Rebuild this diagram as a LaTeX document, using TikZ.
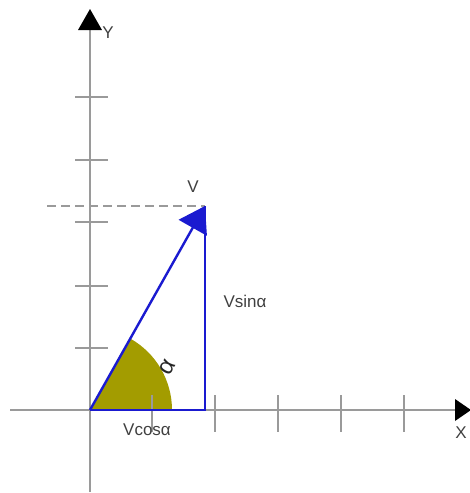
\documentclass[tikz,border=0pt]{standalone}
\usepackage{fontspec}
\setmainfont{Liberation Sans}
\usetikzlibrary{arrows.meta}
\definecolor{axisgray}{HTML}{9A9A9A}
\definecolor{vecblue}{HTML}{1A1AD0}
\definecolor{arcolive}{HTML}{A39C00}
\begin{document}
\begin{tikzpicture}[x=1pt,y=-1pt,
  axis/.style={axisgray,line width=1.4pt},
  tick/.style={axisgray,line width=1.4pt},
  vec/.style={vecblue,line width=2.4pt},
  lbl/.style={font=\fontsize{17}{19}\selectfont,text=black!75,inner sep=0pt},
  alphalbl/.style={font=\fontsize{24}{26}\selectfont,text=black!85,inner sep=0pt}]
\useasboundingbox (0,0) rectangle (470,493);
\coordinate (O) at (90,410);
\coordinate (ytop) at (90,28);
\coordinate (ybot) at (90,492);
\coordinate (xl) at (10,410);
\coordinate (xr) at (456,410);
\coordinate (P) at (205,206);
\coordinate (Q) at (205,410);
\coordinate (dl) at (47,206);
% sector
\fill[arcolive] (O) -- (172,410) arc[start angle=0,end angle=-60.6,radius=82] -- cycle;
% axes
\draw[axis] (ybot) -- (ytop);
\draw[axis] (xl) -- (xr);
% ticks
\foreach \y in {97,160,222,286,348} \draw[tick] (75,\y) -- (108,\y);
\foreach \x in {152,215,278,341,404} \draw[tick] (\x,395) -- (\x,432);
% dashed
\draw[axisgray,line width=1.4pt,dash pattern=on 9pt off 5pt] (dl) -- (P);
% axis arrowheads
\fill[black] (90,9) -- (102,30) -- (78,30) -- cycle;
\fill[black] (471,410) -- (455,399) -- (455,421) -- cycle;
% triangle
\draw[vec] (O) -- (Q) -- (P);
\draw[vec,-{Triangle[length=25pt,width=32pt]}] (O) -- (P);
% labels
\node[lbl] (Y) at (108,33) {Y};
\node[lbl] (X) at (461,433) {X};
\node[lbl] (V) at (193,187) {V};
\node[lbl] (vs) at (245,301) {Vsinα};
\node[lbl] (vc) at (147,430) {Vcosα};
\node[alphalbl,rotate=60] (al) at (167,367) {α};
\end{tikzpicture}
\end{document}
